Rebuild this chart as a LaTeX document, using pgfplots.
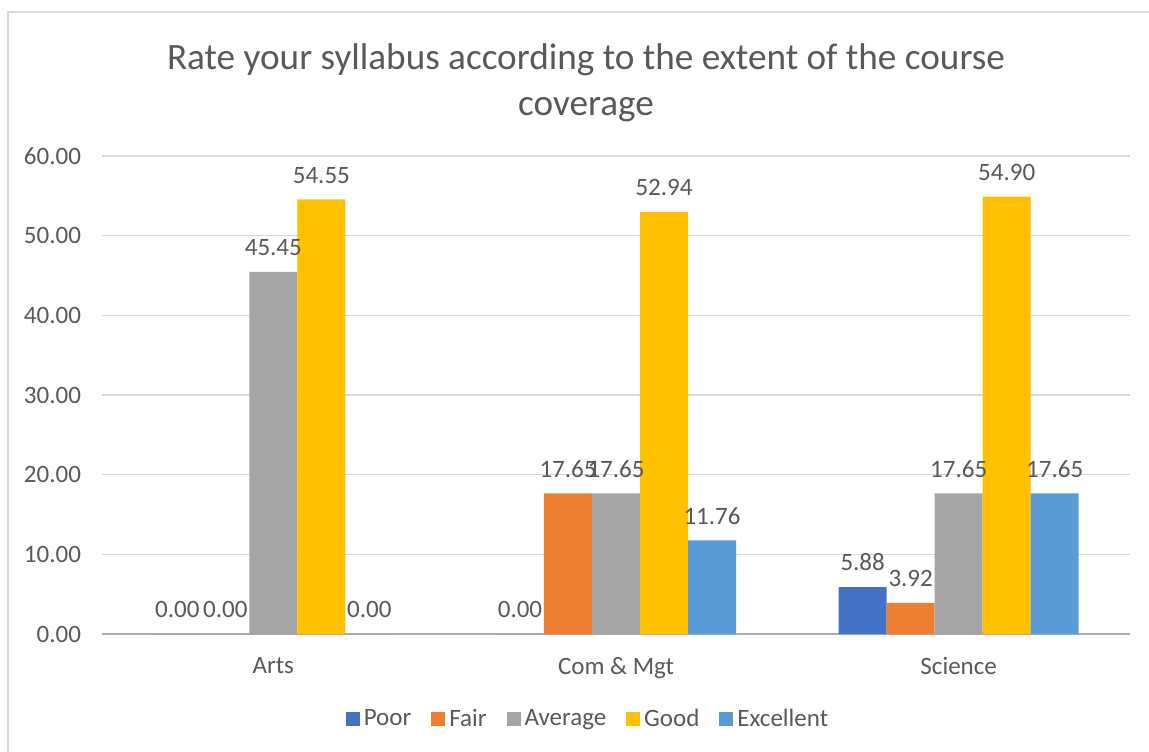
\documentclass[border=0pt]{standalone}
\usepackage{fontspec}
\setmainfont{Carlito}
\usepackage{pgfplots}
\pgfplotsset{compat=1.18}

\definecolor{txt}{HTML}{595959}
\definecolor{gridc}{HTML}{D9D9D9}
\definecolor{poor}{HTML}{4472C4}
\definecolor{fair}{HTML}{ED7D31}
\definecolor{avg}{HTML}{A5A5A5}
\definecolor{good}{HTML}{FFC000}
\definecolor{exc}{HTML}{5B9BD5}

\begin{document}
\begin{tikzpicture}
\useasboundingbox (0pt,0pt) rectangle (574.5pt,375.5pt);
% chart area border
\draw[gridc, line width=0.75pt] (4pt,-20pt) rectangle (585pt,369.5pt);
% title
\node[text=txt, align=center, font=\fontsize{18.6}{23}\selectfont] at (293pt,334pt)
  {Rate your syllabus according to the extent of the course\\coverage};

\begin{axis}[
    at={(51pt,58.5pt)}, anchor=south west,
    scale only axis,
    width=514pt, height=239pt,
    xmin=-0.5, xmax=2.5,
    ymin=0, ymax=60,
    ytick={0,10,...,60},
    xtick={0,1,2},
    xticklabels={Arts, Com \& Mgt, Science},
    ybar=0pt,
    bar width=0.1401,
    axis lines=left,
    axis line style={-},
    y axis line style={draw=none},
    x axis line style={draw=gridc!80!black, line width=0.75pt},
    major tick length=0pt,
    ymajorgrids,
    grid style={gridc, line width=0.75pt},
    tick label style={text=txt, font=\fontsize{12.5}{15}\selectfont},
    yticklabel style={/pgf/number format/.cd, fixed, zerofill, precision=2, assume math mode=true, /tikz/.cd, xshift=-7pt},
    xticklabel style={yshift=-8pt},
    nodes near coords={\pgfmathprintnumber[fixed,zerofill,precision=2,assume math mode=true]{\pgfplotspointmeta}},
    every node near coord/.append style={text=txt, font=\fontsize{12.5}{15}\selectfont, yshift=4.5pt},
    legend columns=5,
    legend image code/.code={\fill[#1] (0pt,-3.5pt) rectangle (7pt,3.5pt);},
    legend style={draw=none, fill=none, at={(0.4737,-0.178)}, anchor=center,
        font=\fontsize{12.5}{15}\selectfont, text=txt,
        /tikz/every even column/.append style={column sep=8pt}},
    clip=false,
]
\addplot[fill=poor, draw=none] coordinates {(0,0) (1,0) (2,5.88)};
\addplot[fill=fair, draw=none] coordinates {(0,0) (1,17.65) (2,3.92)};
\addplot[fill=avg, draw=none] coordinates {(0,45.45) (1,17.65) (2,17.65)};
\addplot[fill=good, draw=none] coordinates {(0,54.55) (1,52.94) (2,54.90)};
\addplot[fill=exc, draw=none] coordinates {(0,0) (1,11.76) (2,17.65)};
\legend{Poor, Fair, Average, Good, Excellent}
\end{axis}
\end{tikzpicture}
\end{document}
